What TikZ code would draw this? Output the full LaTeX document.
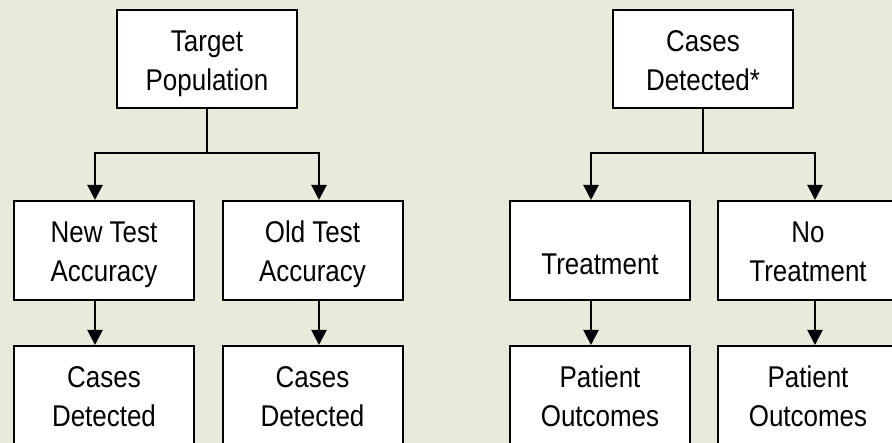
\documentclass[tikz,border=0pt]{standalone}
\usepackage{fontspec}
\setmainfont{Liberation Sans}[FakeStretch=0.865]
\usetikzlibrary{arrows.meta}
\definecolor{paper}{RGB}{233,234,220}
\begin{document}
\begin{tikzpicture}[x=1pt,y=-1pt,
  box/.style={draw=black, fill=white, line width=2pt, minimum width=180pt,
    inner xsep=0pt, inner ysep=0pt, align=center,
    font=\fontsize{30pt}{39pt}\selectfont,
    text height=81pt, text depth=17pt},
  onebox/.style={box, text height=74pt, text depth=25pt},
  conn/.style={line width=2pt, line cap=rect},
  arr/.style={line width=2pt, -{Triangle[length=15pt,width=15pt]}}]
  \useasboundingbox (0,0) rectangle (892,443);
  \fill[paper] (0,0) rectangle (892,443);
  \clip (0,0) rectangle (892,443);

  % diagnostic-accuracy branch
  \node[box] (tp)  at (207,59)    {Target\\Population};
  \node[box, text depth=18pt] (nta) at (104,250.5) {New Test\\Accuracy};
  \node[box, text depth=18pt] (ota) at (312.5,250.5) {Old Test\\Accuracy};
  \node[box, text depth=18pt] (ncd) at (104,395.5) {Cases\\Detected};
  \node[box, text depth=18pt] (ocd) at (312.5,395.5) {Cases\\Detected};

  % treatment branch
  \node[box] (cd)  at (703,59)    {Cases\\Detected*};
  \node[onebox] (tr) at (600,250.5) {Treatment};
  \node[box, text depth=18pt] (nt)  at (808,250.5) {No\\Treatment};
  \node[box, text depth=18pt] (po1) at (600,395.5) {Patient\\Outcomes};
  \node[box, text depth=18pt] (po2) at (808,395.5) {Patient\\Outcomes};

  % split points of the two trees
  \coordinate (jl) at (95,153);
  \coordinate (jr) at (319,153);
  \coordinate (kl) at (591,153);
  \coordinate (kr) at (815,153);

  \draw[conn] (tp.south) -- (tp.south |- jl);
  \draw[conn] (jl) -- (jr);
  \draw[arr] (jl) -- (jl |- nta.north);
  \draw[arr] (jr) -- (jr |- ota.north);
  \draw[arr] (jl |- nta.south) -- (jl |- ncd.north);
  \draw[arr] (jr |- ota.south) -- (jr |- ocd.north);

  \draw[conn] (cd.south) -- (cd.south |- kl);
  \draw[conn] (kl) -- (kr);
  \draw[arr] (kl) -- (kl |- tr.north);
  \draw[arr] (kr) -- (kr |- nt.north);
  \draw[arr] (kl |- tr.south) -- (kl |- po1.north);
  \draw[arr] (kr |- nt.south) -- (kr |- po2.north);
\end{tikzpicture}
\end{document}
